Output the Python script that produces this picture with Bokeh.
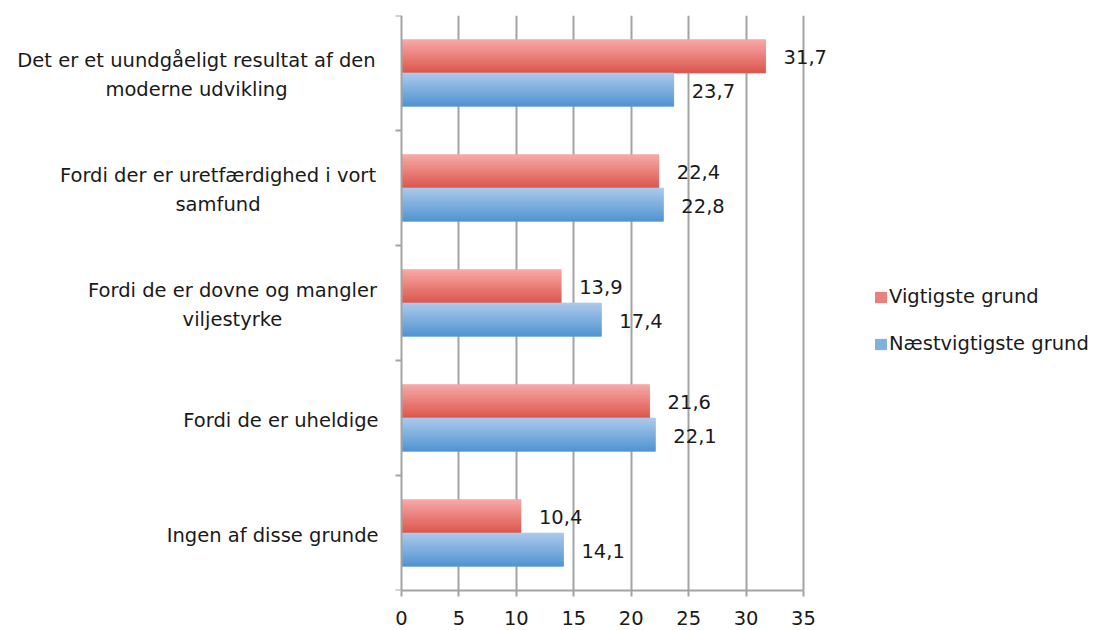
from bokeh.plotting import figure
from bokeh.models import (Range1d, FixedTicker, LabelSet, Label, ColumnDataSource,
                          Legend, LegendItem)
from bokeh.core.properties import value
from bokeh.embed import file_html
from bokeh.resources import INLINE

# ---------------- data ----------------
categories = [
    "Det er et uundgåeligt resultat af den\nmoderne udvikling",
    "Fordi der er uretfærdighed i vort\nsamfund",
    "Fordi de er dovne og mangler\nviljestyrke",
    "Fordi de er uheldige",
    "Ingen af disse grunde",
]
vigtigste = [31.7, 22.4, 13.9, 21.6, 10.4]
naestvigtigste = [23.7, 22.8, 17.4, 22.1, 14.1]
series_names = ["Vigtigste grund", "Næstvigtigste grund"]
x_ticks = [0, 5, 10, 15, 20, 25, 30, 35]

# ---------------- style ----------------
FONT = "DejaVu Sans"
FS = "19.5px"
TXT = "#1a1a1a"
GRID = "#a3a3a3"
red_top, red_bot = (247, 168, 166), (221, 89, 80)
blue_top, blue_bot = (171, 201, 235), (84, 150, 210)
BAR_H = 0.29
N_STRIPS = 14

W, H = 1095, 630
ZERO_PX, TOP, BOTTOM = 401, 15, 40
AXIS_PX = 402            # pixels covered by the 0..35 axis
px_per_unit = AXIS_PX / x_ticks[-1]
x_start = -ZERO_PX / px_per_unit
x_end = (W - ZERO_PX) / px_per_unit

n = len(categories)
centers = [n - 0.5 - i for i in range(n)]

p = figure(width=W, height=H, output_backend="svg", toolbar_location=None,
           x_range=Range1d(x_start, x_end), y_range=Range1d(0, n),
           min_border_left=0, min_border_right=0, min_border_top=TOP,
           min_border_bottom=BOTTOM)
p.outline_line_color = None
p.background_fill_color = "white"
p.border_fill_color = "white"


def hexc(c):
    return "#%02x%02x%02x" % tuple(int(round(v)) for v in c)


def draw_series(values, offset, top, bot):
    ys = [c + offset for c in centers]
    mid = hexc([(a + b) / 2 for a, b in zip(top, bot)])
    base = p.hbar(y=ys, right=values, left=0, height=BAR_H, fill_color=mid,
                  line_color=None)
    sy, sr, sc = [], [], []
    for y, v in zip(ys, values):
        for k in range(N_STRIPS):
            t = k / (N_STRIPS - 1)
            col = [a + (b - a) * t for a, b in zip(top, bot)]
            sy.append(y + BAR_H / 2 - (k + 0.5) * BAR_H / N_STRIPS)
            sr.append(v)
            sc.append(hexc(col))
    src = ColumnDataSource(dict(y=sy, right=sr, color=sc))
    p.hbar(y="y", right="right", left=0, height=BAR_H / N_STRIPS, source=src,
           fill_color="color", line_color="color", line_width=0.6)
    lsrc = ColumnDataSource(dict(x=values, y=ys,
                                 t=[("%.1f" % v).replace(".", ",") for v in values]))
    p.add_layout(LabelSet(x="x", y="y", text="t", source=lsrc, x_offset=18,
                          y_offset=-1, text_baseline="middle", text_align="left",
                          text_font=value(FONT), text_font_size=value(FS),
                          text_color=TXT))
    return base


r_red = draw_series(vigtigste, BAR_H / 2, red_top, red_bot)
r_blue = draw_series(naestvigtigste, -BAR_H / 2, blue_top, blue_bot)

# x axis (limited to 0..35)
p.xaxis.ticker = FixedTicker(ticks=x_ticks)
p.xaxis.bounds = (x_ticks[0], x_ticks[-1])
p.xaxis.axis_line_color = GRID
p.xaxis.axis_line_width = 2
p.xaxis.major_tick_line_color = GRID
p.xaxis.major_tick_line_width = 2
p.xaxis.major_tick_out = 6
p.xaxis.major_tick_in = 0
p.xaxis.minor_tick_line_color = None
p.xaxis.major_label_text_font = FONT
p.xaxis.major_label_text_font_size = FS
p.xaxis.major_label_text_color = TXT
p.xaxis.major_label_standoff = 14

# y axis drawn at x = 0, tick marks at category boundaries, no tick labels
boundaries = list(range(n + 1))
p.yaxis.fixed_location = 0
p.yaxis.ticker = FixedTicker(ticks=boundaries)
p.yaxis.major_label_overrides = {b: "" for b in boundaries}
p.yaxis.axis_line_color = GRID
p.yaxis.axis_line_width = 2
p.yaxis.major_tick_line_color = GRID
p.yaxis.major_tick_line_width = 2
p.yaxis.major_tick_out = 6
p.yaxis.major_tick_in = 0
p.yaxis.minor_tick_line_color = None

p.xgrid.ticker = FixedTicker(ticks=x_ticks[1:])
p.xgrid.grid_line_color = GRID
p.xgrid.grid_line_width = 2
p.ygrid.grid_line_color = None

# category labels (centred lines, block right edge near the axis)
label_offsets = [-205, -183.5, -169, -23, -23]
for cat, c, xo in zip(categories, centers, label_offsets):
    multi = "\n" in cat
    p.add_layout(Label(x=0, y=c, text=cat, x_offset=xo,
                       y_offset=-2 if multi else -2,
                       text_align="center" if multi else "right",
                       text_baseline="middle", text_font=FONT, text_font_size=FS,
                       text_color=TXT, text_line_height=1.26))

legend = Legend(items=[LegendItem(label=series_names[0], renderers=[r_red]),
                       LegendItem(label=series_names[1], renderers=[r_blue])],
                location=(873, 235))
legend.label_text_font = FONT
legend.label_text_font_size = FS
legend.label_text_color = TXT
legend.glyph_width = 15
legend.glyph_height = 14
legend.label_standoff = 1
legend.spacing = 24
legend.padding = 0
legend.margin = 0
legend.border_line_color = None
legend.background_fill_alpha = 0
p.add_layout(legend)

open("out.html", "w").write(file_html(p, INLINE))
